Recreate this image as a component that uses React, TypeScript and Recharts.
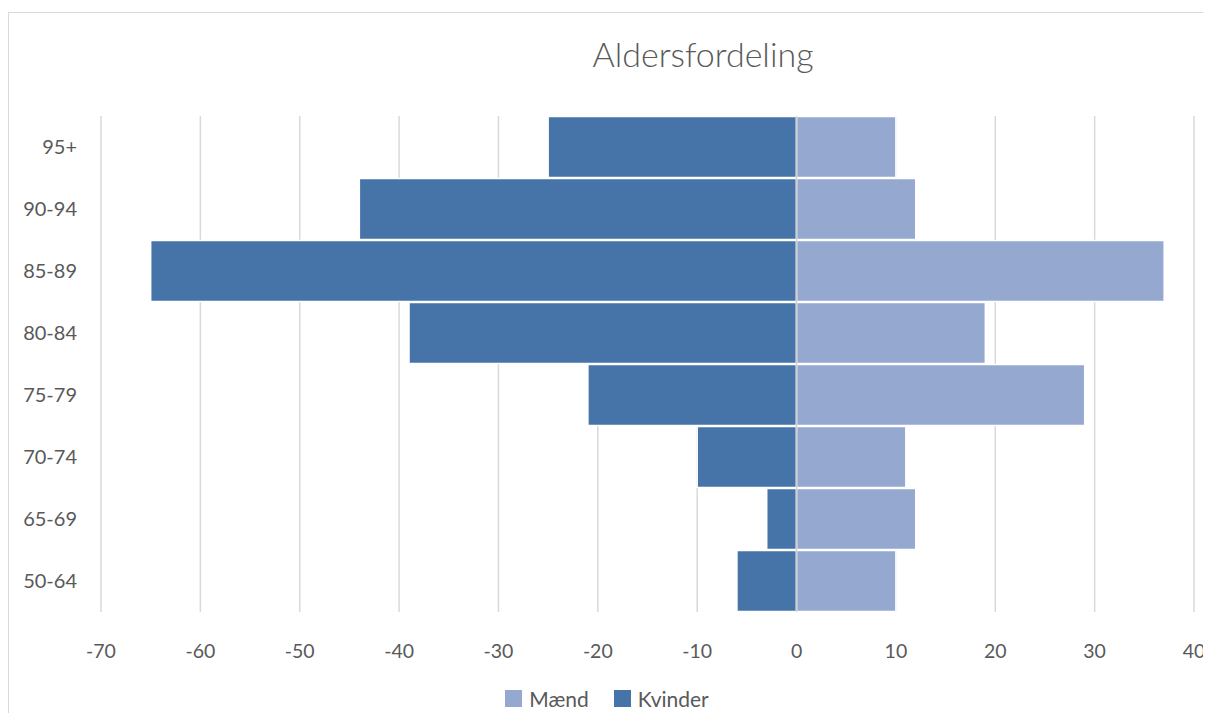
import React from 'react';
import { BarChart, Bar, XAxis, YAxis, CartesianGrid, Legend, ReferenceLine } from 'recharts';

const ageGroups = ['95+', '90-94', '85-89', '80-84', '75-79', '70-74', '65-69', '50-64'];
const kvinder = [-25, -44, -65, -39, -21, -10, -3, -6];
const maend = [10, 12, 37, 19, 29, 11, 12, 10];
const xTicks = [-70, -60, -50, -40, -30, -20, -10, 0, 10, 20, 30, 40];

const data = ageGroups.map((age, i) => ({ age, Kvinder: kvinder[i], Mænd: maend[i] }));

const FONT = 'Lato, "Open Sans", sans-serif';
const TEXT = '#595959';
const COLORS = { Mænd: '#95A9D0', Kvinder: '#4674A8' };

function LegendContent() {
  const items: Array<'Mænd' | 'Kvinder'> = ['Mænd', 'Kvinder'];
  return (
    <div style={{ display: 'flex', justifyContent: 'center', gap: 25, fontFamily: FONT, fontSize: 21, color: TEXT }}>
      {items.map((name) => (
        <div key={name} style={{ display: 'flex', alignItems: 'center' }}>
          <span style={{ width: 17, height: 17, background: COLORS[name], display: 'inline-block', marginRight: 7 }} />
          {name}
        </div>
      ))}
    </div>
  );
}

export default function App() {
  return (
    <div style={{ paddingTop: 4 }}>
      <div
        style={{
          position: 'relative',
          width: 1198,
          height: 700,
          overflow: 'hidden',
          borderTop: '1.5px solid #D9D9D9',
          borderLeft: '1.5px solid #D9D9D9',
          borderRight: '1.5px solid #D9D9D9',
          background: '#fff',
        }}
      >
        <div
          style={{
            position: 'absolute',
            top: 20,
            left: 694,
            transform: 'translateX(-50%)',
            whiteSpace: 'nowrap',
            fontFamily: FONT,
            fontSize: 34,
            fontWeight: 300,
            color: TEXT,
          }}
        >
          Aldersfordeling
        </div>
        <BarChart
          width={1196}
          height={700}
          data={data}
          layout="vertical"
          stackOffset="sign"
          barCategoryGap="1%"
          margin={{ top: 103, right: 11, bottom: 71, left: 12 }}
        >
          <CartesianGrid horizontal={false} stroke="#D9D9D9" strokeWidth={1.5} />
          <XAxis
            type="number"
            domain={[-70, 40]}
            ticks={xTicks}
            interval={0}
            axisLine={false}
            tickLine={false}
            tickSize={0}
            tickMargin={32}
            height={30}
            tick={{ fill: TEXT, fontSize: 19.5, fontFamily: FONT }}
          />
          <YAxis
            type="category"
            dataKey="age"
            width={80}
            axisLine={false}
            tickLine={false}
            tickSize={0}
            tickMargin={24}
            tick={{ fill: TEXT, fontSize: 20, fontFamily: FONT }}
          />
          <Bar dataKey="Kvinder" stackId="a" fill={COLORS.Kvinder} stroke="#fff" strokeWidth={1.5} isAnimationActive={false} />
          <Bar dataKey="Mænd" stackId="a" fill={COLORS.Mænd} stroke="#fff" strokeWidth={1.5} isAnimationActive={false} />
          <ReferenceLine x={0} stroke="#D0D0D0" strokeWidth={1.5} />
          <Legend
            layout="horizontal"
            verticalAlign="middle"
            align="center"
            content={<LegendContent />}
            wrapperStyle={{ top: 673, left: 0, width: 1196 }}
          />
        </BarChart>
      </div>
    </div>
  );
}
